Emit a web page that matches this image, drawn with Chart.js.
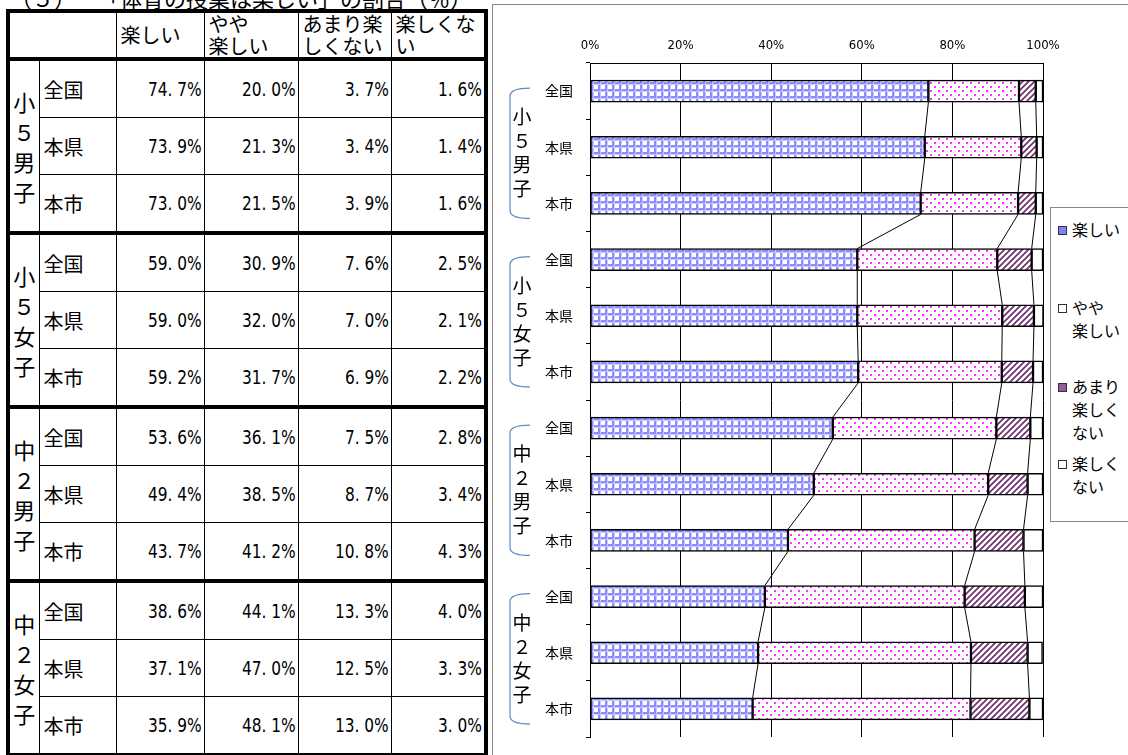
<!DOCTYPE html>
<html lang="ja">
<head>
<meta charset="utf-8">
<title>体育の授業は楽しい</title>
<script src="https://cdn.jsdelivr.net/npm/chart.js@4/dist/chart.umd.min.js"></script>
<style>
  body { margin:0; width:1128px; height:755px; overflow:hidden; background:#fff; position:relative;
         font-family:"Noto Sans CJK JP","Noto Sans",sans-serif; color:#000; }
  #title { position:absolute; left:10px; top:-14px; font-size:22px; line-height:22px; white-space:pre; }
  #tbl { position:absolute; left:6px; top:9px; border-collapse:collapse; table-layout:fixed; border:4px solid #000; }
  #tbl td { border:1px solid #000; padding:0; font-size:20px; line-height:23px; overflow:hidden; }
  #tbl tr.head td { height:44px; line-height:22px; vertical-align:middle; padding-left:4px; }
  #tbl tr.row td { height:56px; }
  #tbl tr.first td { border-top:4px solid #000; }
  #tbl td.grp { text-align:center; font-size:22px; line-height:30px; padding-top:0; }
  #tbl td.area { padding-left:4px; }
  #tbl td.num { text-align:right; padding-right:2px; font-family:"Liberation Sans Narrow","DejaVu Sans Condensed",sans-serif; font-size:19px; }
  #tbl td.num span { display:inline-block; transform:scaleX(0.9); transform-origin:right center; }
  #chartBox { position:absolute; left:492px; top:4px; width:640px; height:760px; border:1px solid #888; }
  #legend { position:absolute; left:1050px; top:207px; width:90px; height:313px; border:1px solid #888; background:#fff; }
  .item { position:absolute; left:7px; font-size:16px; line-height:23px; }
  .sw { position:absolute; left:0; top:8px; width:7px; height:7px; border:1px solid #333; }
  .txt { margin-left:14px; }
</style>
</head>
<body>
<div id="title">（５）　　「体育の授業は楽しい」の割合（％）</div>
<table id="tbl"></table>
<div id="chartBox"><canvas id="chart" width="640" height="760"></canvas></div>
<div id="legend"></div>

<script>
// 学年・性別ごとの回答割合（％）
const groups = ["小５男子", "小５女子", "中２男子", "中２女子"];
const areas = ["全国", "本県", "本市"];
const seriesNames = ["楽しい", "やや楽しい", "あまり楽しくない", "楽しくない"];

const tanoshii = [74.7, 73.9, 73.0, 59.0, 59.0, 59.2, 53.6, 49.4, 43.7, 38.6, 37.1, 35.9];
const yaya     = [20.0, 21.3, 21.5, 30.9, 32.0, 31.7, 36.1, 38.5, 41.2, 44.1, 47.0, 48.1];
const amari    = [3.7, 3.4, 3.9, 7.6, 7.0, 6.9, 7.5, 8.7, 10.8, 13.3, 12.5, 13.0];
const nai      = [1.6, 1.4, 1.6, 2.5, 2.1, 2.2, 2.8, 3.4, 4.3, 4.0, 3.3, 3.0];

const xTicks = [0, 20, 40, 60, 80, 100];

// 表の見出しと凡例の改行位置
const headLines = [["楽しい"], ["やや", "楽しい"], ["あまり楽", "しくない"], ["楽しくな", "い"]];
const legendLines = [["楽しい"], ["やや", "楽しい"], ["あまり", "楽しく", "ない"], ["楽しく", "ない"]];

const series = [tanoshii, yaya, amari, nai];
const yLabels = [];
groups.forEach(() => areas.forEach(a => yLabels.push(a)));

// ---- 左側の表 ----
const fmt = v => v.toFixed(1).replace(".", ". ") + "%";
const colW = [31, 77, 88, 94, 93, 95];
let html = "<colgroup>" + colW.map(w => `<col style="width:${w}px">`).join("") + "</colgroup>";
html += '<tr class="head"><td colspan="2"></td>' +
  headLines.map(l => `<td>${l.join("<br>")}</td>`).join("") + "</tr>";
groups.forEach((g, k) => {
  areas.forEach((a, j) => {
    const i = k * 3 + j;
    html += `<tr class="row${j === 0 ? " first" : ""}">`;
    if (j === 0) html += `<td class="grp" rowspan="3">${Array.from(g).join("<br>")}</td>`;
    html += `<td class="area">${a}</td>`;
    series.forEach(s => { html += `<td class="num"><span>${fmt(s[i])}</span></td>`; });
    html += "</tr>";
  });
});
document.getElementById("tbl").innerHTML = html;

// ---- 塗りパターン ----
function makePattern(size, draw) {
  const c = document.createElement("canvas");
  c.width = size; c.height = size;
  const g = c.getContext("2d");
  g.fillStyle = "#fff";
  g.fillRect(0, 0, size, size);
  draw(g, size);
  return document.getElementById("chart").getContext("2d").createPattern(c, "repeat");
}
const gridPat = makePattern(7, (g) => {
  g.fillStyle = "#8c8cff";
  g.fillRect(0, 0, 7, 2);
  g.fillRect(0, 0, 2, 7);
  g.fillStyle = "#c8c8ff";
  g.fillRect(0, 2, 7, 1);
  g.fillRect(2, 0, 1, 7);
});
const dotPat = makePattern(8, (g) => {
  g.fillStyle = "#ff33ff";
  g.fillRect(1, 1, 2, 2);
  g.fillRect(5, 5, 2, 2);
});
const hatchPat = makePattern(6, (g) => {
  g.strokeStyle = "#6e2f6e";
  g.lineWidth = 1.7;
  g.beginPath();
  g.moveTo(-1, 7); g.lineTo(7, -1);
  g.moveTo(-1, 1); g.lineTo(1, -1);
  g.moveTo(5, 7); g.lineTo(7, 5);
  g.stroke();
});
const fills = [gridPat, dotPat, hatchPat, "#ffffff"];

// 隣り合う棒の境目を結ぶ区分線
const seriesLines = {
  id: "seriesLines",
  afterDatasetsDraw(chart) {
    const ctx = chart.ctx;
    ctx.save();
    ctx.strokeStyle = "#000";
    ctx.lineWidth = 1;
    for (let s = 0; s < 3; s++) {
      const bars = chart.getDatasetMeta(s).data;
      for (let i = 0; i < bars.length - 1; i++) {
        ctx.beginPath();
        ctx.moveTo(bars[i].x, bars[i].y + bars[i].height / 2);
        ctx.lineTo(bars[i + 1].x, bars[i + 1].y - bars[i + 1].height / 2);
        ctx.stroke();
      }
    }
    ctx.restore();
  }
};

// 左端の括弧と学年ラベル
const groupLabels = {
  id: "groupLabels",
  afterDraw(chart) {
    const ctx = chart.ctx, ys = chart.scales.y;
    ctx.save();
    groups.forEach((g, k) => {
      const top = ys.getPixelForValue(k * 3) - 3;
      const bot = ys.getPixelForValue(k * 3 + 2) + 15;
      ctx.strokeStyle = "#5b8cc8";
      ctx.lineWidth = 1.2;
      ctx.beginPath();
      ctx.moveTo(37, top);
      ctx.quadraticCurveTo(17, top, 17, top + 8);
      ctx.lineTo(17, bot - 8);
      ctx.quadraticCurveTo(17, bot, 37, bot);
      ctx.stroke();
      const chars = Array.from(g);
      const mid = (top + bot) / 2;
      ctx.fillStyle = "#000";
      ctx.font = '19px "Noto Sans CJK JP"';
      ctx.textAlign = "center";
      ctx.textBaseline = "middle";
      chars.forEach((ch, n) => {
        ctx.fillText(ch, 29, mid + (n - (chars.length - 1) / 2) * 24);
      });
    });
    ctx.restore();
  }
};

Chart.defaults.font.family = '"Noto Sans CJK JP", sans-serif';
Chart.defaults.color = "#000";

new Chart(document.getElementById("chart"), {
  type: "bar",
  data: {
    labels: yLabels,
    datasets: series.map((s, n) => ({
      label: seriesNames[n],
      data: s,
      backgroundColor: fills[n],
      borderColor: "#000",
      borderWidth: 1.5,
      borderSkipped: false,
      barThickness: 22
    }))
  },
  options: {
    indexAxis: "y",
    responsive: false,
    animation: false,
    layout: { padding: { left: 0, right: 90, top: 0, bottom: 28 } },
    plugins: { legend: { display: false }, tooltip: { enabled: false } },
    scales: {
      x: {
        position: "top",
        stacked: true,
        min: 0,
        max: 100,
        afterBuildTicks: (scale) => { scale.ticks = xTicks.map(v => ({ value: v })); },
        afterFit: (scale) => { scale.height = 58; },
        ticks: {
          callback: v => v + "%",
          padding: 10,
          font: { family: '"Liberation Sans Narrow","DejaVu Sans Condensed",sans-serif', size: 13 }
        },
        grid: { color: "#000", lineWidth: 1, drawTicks: false },
        border: { display: true, color: "#000", width: 1 }
      },
      y: {
        stacked: true,
        afterFit: (scale) => { scale.width = 97; },
        ticks: { padding: 13, font: { size: 14 } },
        grid: { drawOnChartArea: false, offset: true, tickLength: 4, color: "#000" },
        border: { display: true, color: "#000", width: 1 }
      }
    }
  },
  plugins: [seriesLines, groupLabels]
});

// ---- 凡例 ----
const swColors = ["#7f7fff", "#ffffff", "#9a5a9a", "#ffffff"];
const legendTops = [10, 88, 167, 244];
const legend = document.getElementById("legend");
legendLines.forEach((lines, n) => {
  const d = document.createElement("div");
  d.className = "item";
  d.style.top = legendTops[n] + "px";
  d.innerHTML = `<span class="sw" style="background:${swColors[n]}"></span><div class="txt">${lines.join("<br>")}</div>`;
  legend.appendChild(d);
});
</script>
</body>
</html>
